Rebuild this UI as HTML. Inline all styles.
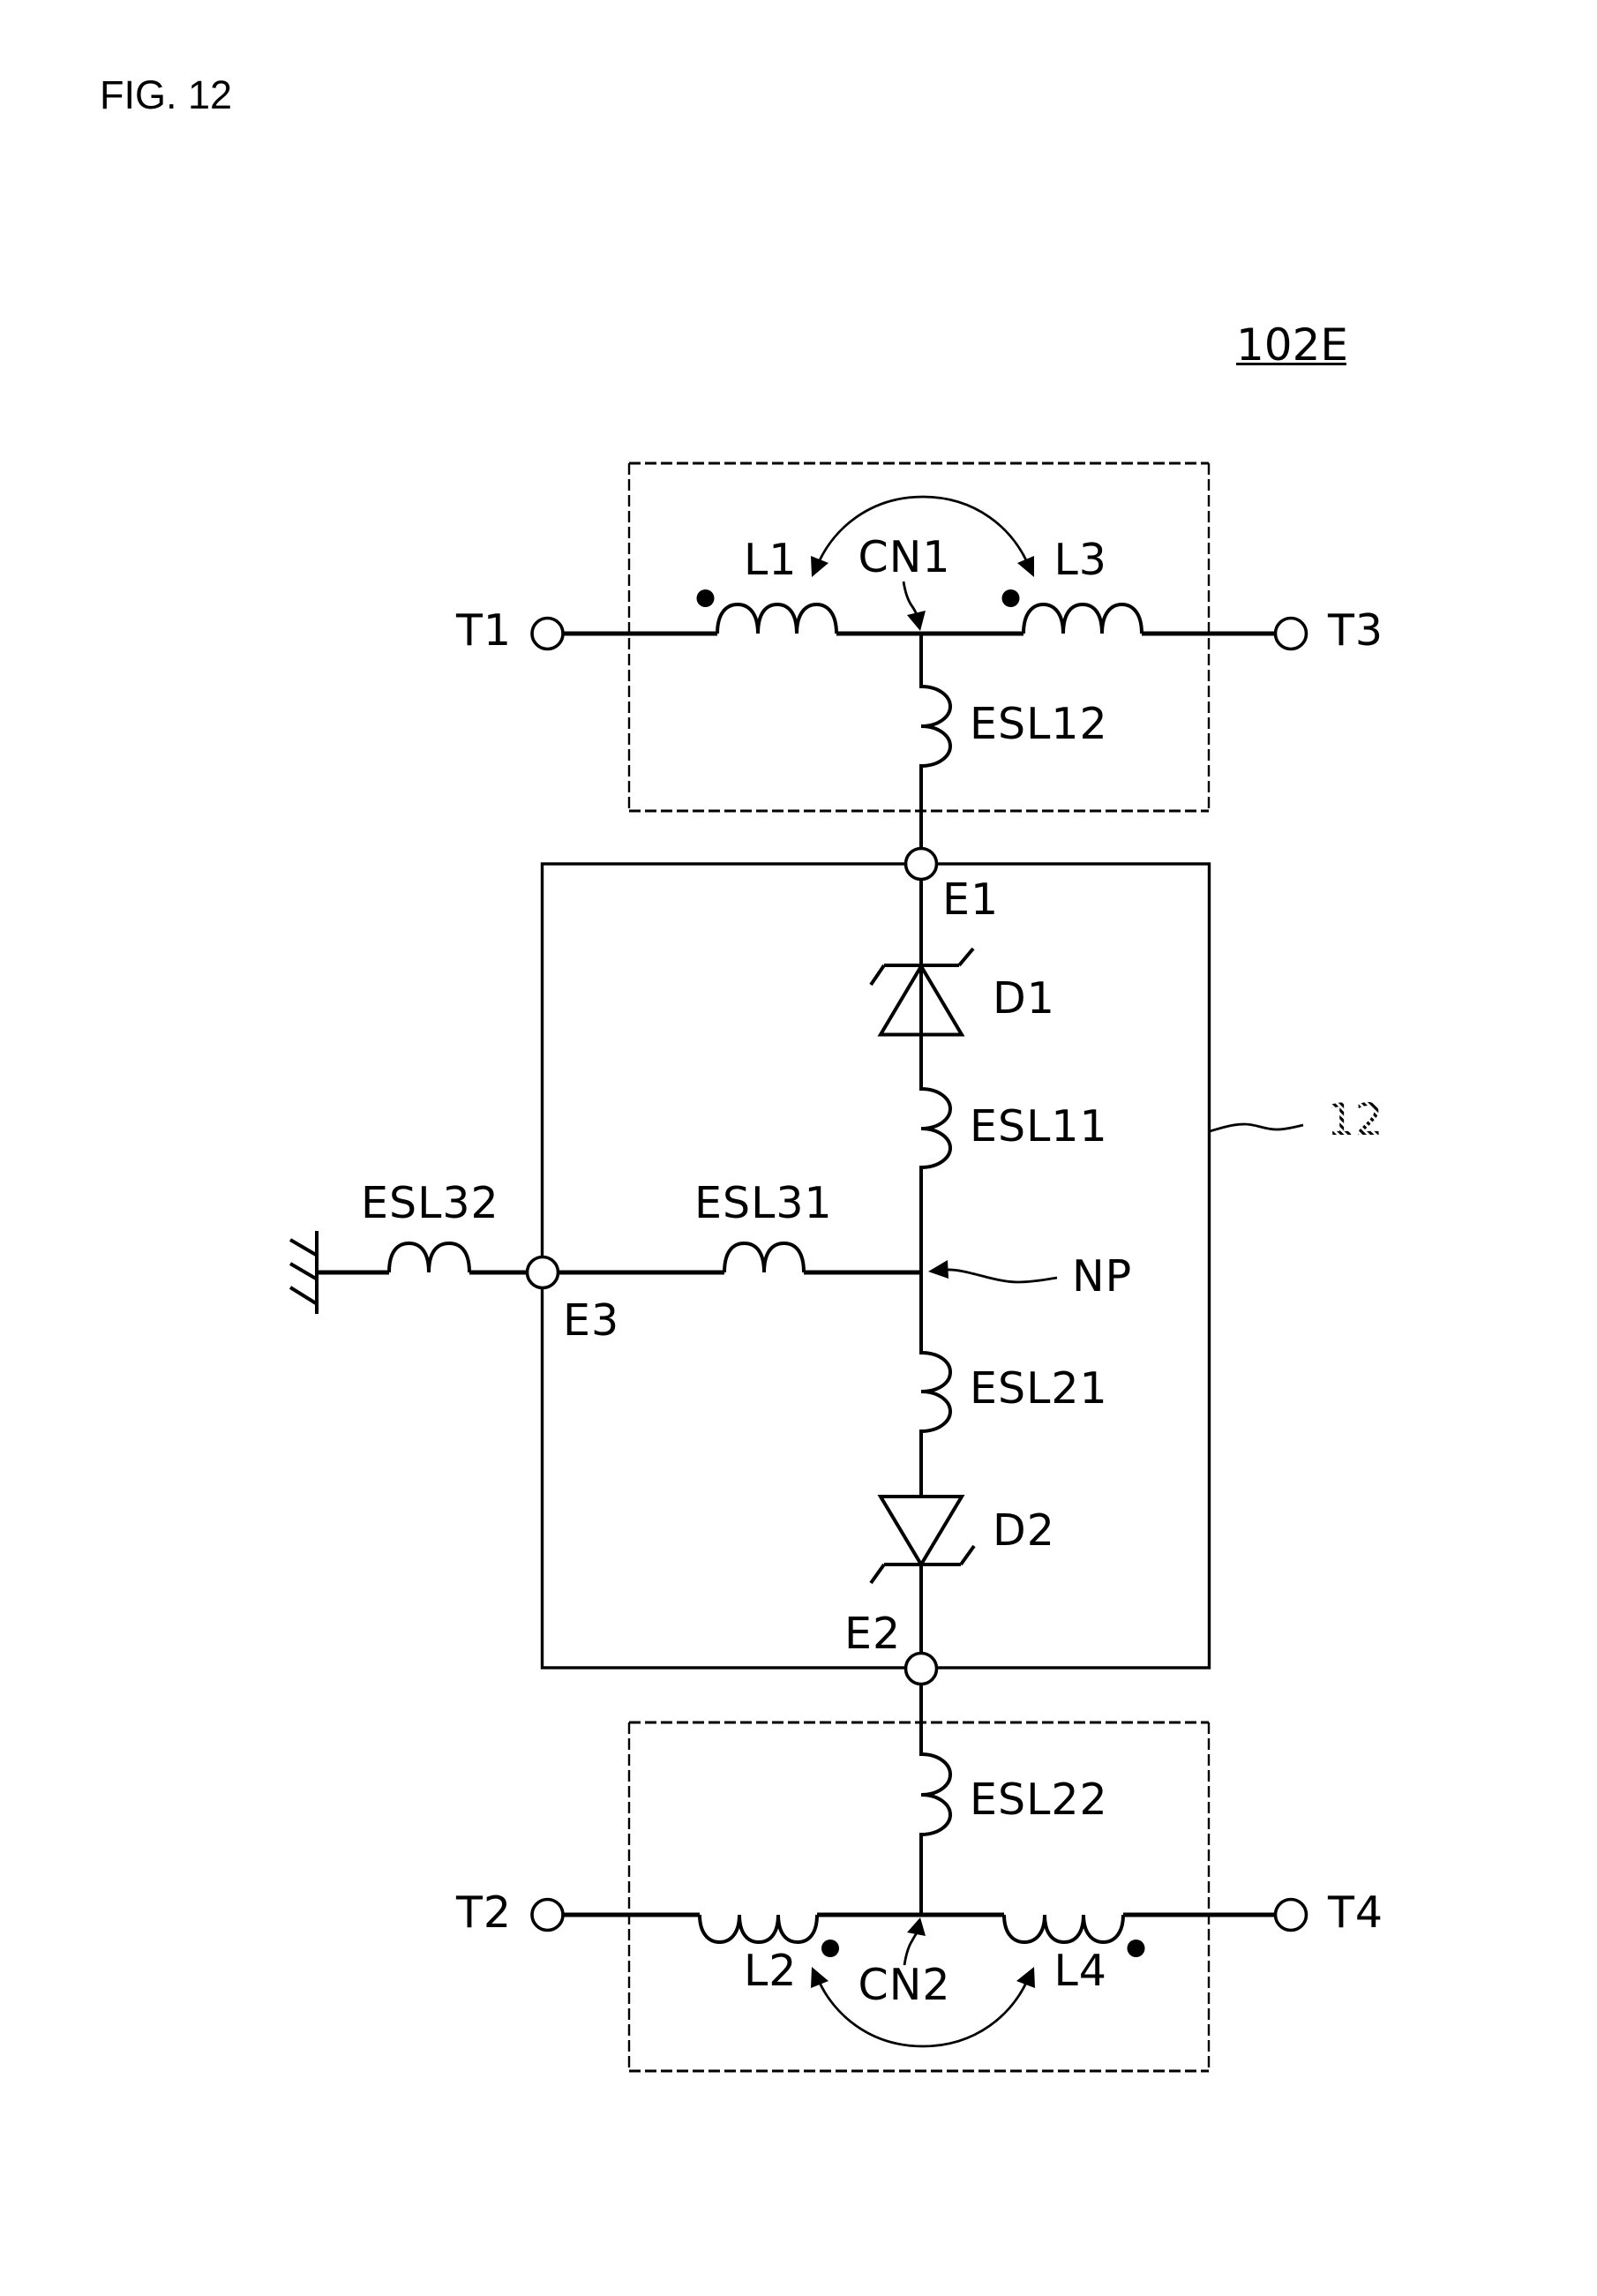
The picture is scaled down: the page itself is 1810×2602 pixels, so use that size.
<!DOCTYPE html>
<html><head><meta charset="utf-8"><style>html,body{margin:0;padding:0;background:#fff}svg{display:block}text{font-family:"DejaVu Sans","Liberation Sans",sans-serif;font-size:49px;letter-spacing:1px;fill:#000}</style></head>
<body>
<svg xmlns="http://www.w3.org/2000/svg" width="1810" height="2602" viewBox="0 0 1810 2602">
<defs>
<pattern id="h" width="6" height="6" patternUnits="userSpaceOnUse" patternTransform="rotate(45)"><rect width="6" height="3.2" fill="#000"/></pattern>
</defs>
<rect width="1810" height="2602" fill="#fff"/>
<text x="113" y="123" style="font-family:'Liberation Sans',sans-serif;font-size:45px;letter-spacing:0">FIG. 12</text>
<text x="1401" y="408" style="font-size:50px;letter-spacing:0">102E</text>
<rect x="1401" y="411" width="125" height="3" fill="#000"/>

<!-- boxes -->
<rect x="614.5" y="979" width="756" height="911" fill="none" stroke="#000" stroke-width="3.4"/>
<g fill="none" stroke="#000" stroke-dasharray="13 5">
<path d="M713 525H1370M713 919H1370M713 1952H1370M713 2347H1370" stroke-width="3"/>
<path d="M713 525V919M1370 525V919M713 1952V2347M1370 1952V2347" stroke-width="2.4"/>
</g>

<!-- thick wires -->
<g fill="none" stroke="#000" stroke-width="5">
<path d="M638 718H813M948 718H1160M1294 718H1445"/>
<path d="M638 2170H793M926 2170H1138M1273 2170H1445"/>
<path d="M359 1442H441M532 1442H597M632 1442H821M911 1442H1044"/>
</g>
<g fill="none" stroke="#000" stroke-width="4">
<path d="M1002 1094H1087M998 1172.500H1090" />
<path d="M1000 1696H1091M1002 1773H1089"/>
<!-- coils horizontal -->
<path d="M813 718c0-24 11-33 23-33s23 9 23 33c0-24 10-33 22-33s22 9 22 33c0-24 11-33 22.500-33s22.500 9 22.500 33"/>
<path d="M1160 718c0-24 11-33 22.500-33s22.500 9 22.500 33c0-24 10-33 22-33s22 9 22 33c0-24 11-33 22.500-33s22.500 9 22.500 33"/>
<path d="M793 2170c0 22 11 31 22.500 31s22.500-9 22.500-31c0 22 10 31 22 31s22-9 22-31c0 22 10 31 22 31s22-9 22-31"/>
<path d="M1138 2170c0 22 11 31 23 31s23-9 23-31c0 22 10 31 22 31s22-9 22-31c0 22 11 31 22.500 31s22.500-9 22.500-31"/>
<path d="M441 1442c0-24 10-33 22.500-33s22.500 9 22.500 33c0-24 10-33 23-33s23 9 23 33"/>
<path d="M821 1442c0-24 10-33 22.500-33s22.500 9 22.500 33c0-24 10-33 22.500-33s22.500 9 22.500 33"/>
<!-- vertical wires and coils -->
<path d="M1044 718V778c20 0 33 11 33 22.500s-13 22.500-33 22.500c20 0 33 11 33 22.500s-13 22.500-33 22.500V960"/>
<path d="M1044 998V1234c20 0 33 11 33 22.500s-13 22.500-33 22.500c20 0 33 11 33 22s-13 22-33 22V1533c20 0 33 10 33 22s-13 22-33 22c20 0 33 11 33 22.500s-13 22.500-33 22.500V1696"/>
<path d="M1044 1773V1872M1044 1910V1988c20 0 33 11 33 23s-13 23-33 23c20 0 33 11 33 22.500s-13 22.500-33 22.500V2170"/>
<!-- diodes -->
<path d="M1044 1095L1090 1172.500H998Z M1002 1094L987 1116M1087 1094L1103 1075"/>
<path d="M998 1696H1090L1044 1773Z M1002 1773L987 1794M1089 1773L1104 1752"/>
<!-- ground -->
<path d="M359 1395V1489M329 1405L358 1422M329 1432L358 1449M329 1459L358 1477"/>
</g>

<!-- terminals -->
<g fill="#fff" stroke="#000" stroke-width="3.6">
<circle cx="620.500" cy="718" r="17.500"/><circle cx="1463" cy="718" r="17.500"/>
<circle cx="620.500" cy="2170" r="17.500"/><circle cx="1463" cy="2170" r="17.500"/>
<circle cx="1044" cy="979" r="17.500"/><circle cx="1044" cy="1891" r="17.500"/><circle cx="615" cy="1442" r="17.500"/>
</g>

<!-- dots -->
<g fill="#000"><circle cx="799.500" cy="678" r="10"/><circle cx="1145.500" cy="678" r="10"/><circle cx="941" cy="2208" r="10"/><circle cx="1287.500" cy="2208" r="10"/></g>

<!-- arcs and arrows -->
<g fill="none" stroke="#000" stroke-width="2.8">
<path d="M928 637C945 600 985 563 1046 563C1107 563 1147 600 1164 637"/>
<path d="M928 2245C945 2282 985 2319 1046 2319C1107 2319 1147 2282 1164 2245"/>
<path d="M1024 659C1026 672 1029 680 1033 686C1036 690 1038 694 1040 699"/>
<path d="M1025 2227C1027 2214 1030 2205 1034 2199C1036 2195 1038 2192 1040 2189"/>
<path d="M1073 1439C1096 1438 1126 1453 1154 1453C1171 1453 1186 1450 1198 1448"/>
<path d="M1371 1282C1385 1278 1397 1274 1410 1274C1425 1274 1432 1280 1447 1280C1458 1280 1468 1277 1477 1275" stroke-width="2.8"/>
</g>
<g fill="#000">
<polygon points="920,654 919,630 939,638"/><polygon points="1172,654 1172,630 1153,638"/>
<polygon points="920,2229 919,2253 939,2245"/><polygon points="1172,2229 1173,2253 1152,2245"/>
<polygon points="1043,715 1028,697 1049,692"/><polygon points="1043,2173 1028,2190 1049,2194"/>
<polygon points="1052,1441 1074,1428 1075,1449"/>
</g>

<!-- labels -->
<text x="843" y="651">L1</text>
<text x="972.500" y="648">CN1</text>
<text x="1194.500" y="651">L3</text>
<text x="517" y="731">T1</text>
<text x="1505" y="731">T3</text>
<text x="1099" y="837">ESL12</text>
<text x="1068" y="1036">E1</text>
<text x="1125" y="1148">D1</text>
<text x="1099" y="1293">ESL11</text>
<text x="1504" y="1286" style="font-size:50px;letter-spacing:0;fill:url(#h)">12</text>
<text x="409" y="1380">ESL32</text>
<text x="787" y="1380">ESL31</text>
<text x="1215" y="1463">NP</text>
<text x="638" y="1513">E3</text>
<text x="1099" y="1590">ESL21</text>
<text x="1125" y="1751">D2</text>
<text x="957" y="1868">E2</text>
<text x="1099" y="2056">ESL22</text>
<text x="517" y="2184">T2</text>
<text x="1505" y="2184">T4</text>
<text x="843" y="2250">L2</text>
<text x="1194.500" y="2250">L4</text>
<text x="972.500" y="2266">CN2</text>
</svg>
</body></html>
